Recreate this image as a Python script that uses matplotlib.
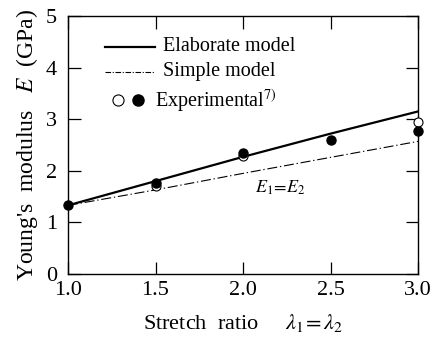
import matplotlib
matplotlib.use("Agg")
import matplotlib.pyplot as plt
from matplotlib.lines import Line2D

plt.rcParams['font.family'] = ['Liberation Serif', 'DejaVu Serif']
plt.rcParams['mathtext.fontset'] = 'stix'

# Data
stretch = [1.0, 1.5, 2.0, 2.5, 3.0]
elaborate = [1.33, 1.80, 2.27, 2.72, 3.15]
simple = [1.33, 1.63, 1.95, 2.26, 2.57]
exp_filled_x = [1.0, 1.5, 2.0, 2.5, 3.0]
exp_filled_y = [1.33, 1.76, 2.35, 2.60, 2.77]
exp_open_x = [1.5, 2.0, 3.0]
exp_open_y = [1.70, 2.29, 2.95]
xticks = [1.0, 1.5, 2.0, 2.5, 3.0]
xticklabels = ["1.0", "1.5", "2.0", "2.5", "3.0"]
yticks = [0, 1, 2, 3, 4, 5]

fig = plt.figure(figsize=(4.36, 3.40), dpi=100)
ax = fig.add_axes([68/436, 66/340, 350/436, 258/340])

ax.plot(stretch, elaborate, color='black', lw=1.6, zorder=3)
ax.plot(stretch, simple, color='black', lw=0.8, dashes=(9, 2.5, 1.2, 2.5), zorder=3)
ax.plot(exp_open_x, exp_open_y, 'o', ms=6.5, mfc='white', mec='black', mew=0.8, zorder=4, clip_on=False)
ax.plot(exp_filled_x, exp_filled_y, 'o', ms=6.5, mfc='black', mec='black', zorder=5, clip_on=False)

ax.set_xlim(1.0, 3.0)
ax.set_ylim(0, 5)
ax.set_xticks(xticks)
ax.set_xticklabels(xticklabels)
ax.set_yticks(yticks)
ax.tick_params(axis='both', direction='in', length=9, width=0.9, top=True, right=True,
               labelsize=16)
ax.tick_params(axis='x', pad=5)
ax.tick_params(axis='y', pad=8)
for s in ax.spines.values():
    s.set_linewidth(1.0)

ax.set_xlabel(r"Stretch  ratio     $\lambda_{1}\!=\lambda_{2}$", fontsize=16, labelpad=9)
ax.set_ylabel(r"Young's  modulus   $E$  (GPa)", fontsize=17, labelpad=4)

# Legend (custom)
tr = ax.transAxes
ax.add_line(Line2D([0.106, 0.249], [0.880, 0.880], color='black', lw=1.6, transform=tr))
ax.add_line(Line2D([0.106, 0.249], [0.783, 0.783], color='black', lw=0.8,
                   dashes=(5, 1.5, 1, 1.5), transform=tr))
ax.text(0.271, 0.880, "Elaborate model", transform=tr, fontsize=14.5, va='center', ha='left')
ax.text(0.271, 0.783, "Simple model", transform=tr, fontsize=14.5, va='center', ha='left')
ax.plot([0.143], [0.674], 'o', ms=8, mfc='white', mec='black', mew=0.8, transform=tr)
ax.plot([0.200], [0.674], 'o', ms=8, mfc='black', mec='black', transform=tr)
ax.text(0.249, 0.674, r"Experimental$^{7)}$", transform=tr, fontsize=14.5, va='center', ha='left')

ax.text(2.21, 1.67, r"$E_{1}\!=\!E_{2}$", fontsize=13, ha='center', va='center')

fig.savefig("out.png", dpi=100)
